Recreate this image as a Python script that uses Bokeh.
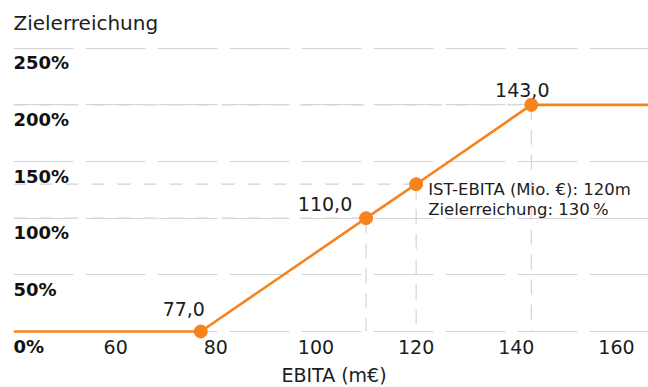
from bokeh.plotting import figure
from bokeh.models import Range1d, FixedTicker, Grid, LabelSet, ColumnDataSource
from bokeh.core.properties import value
from bokeh.embed import file_html
from bokeh.resources import INLINE

# Payout curve: EBITA (m€) vs. target achievement (%)
ebita = [77.0, 110.0, 120.0, 143.0]
achievement = [0, 100, 130, 200]
point_labels = ["77,0", "110,0", "", "143,0"]

x_ticks = [60, 80, 100, 120, 140, 160]
x_tick_labels = ["60", "80", "100", "120", "140", "160"]
y_ticks = [0, 50, 100, 150, 200, 250]
y_tick_labels = ["0%", "50%", "100%", "150%", "200%", "250%"]

actual_ebita = 120
actual_achievement = 130

# plotting area spans the whole canvas; texts live inside it
X_START, X_END = 39.6, 166.4
Y_START, Y_END = -49.4, 292.1

ORANGE = "#F5841F"
GRID = "#d4d4d4"
TEXT = "#1c1c1c"
FONT = value("DejaVu Sans")

p = figure(width=648, height=387, output_backend="svg", toolbar_location=None,
           x_range=Range1d(X_START, X_END), y_range=Range1d(Y_START, Y_END),
           x_axis_location=None, y_axis_location=None, min_border=0)
p.min_border_left = 13
p.outline_line_color = None
p.background_fill_color = "white"
p.border_fill_color = "white"
for g in p.grid:
    g.visible = False

# horizontal grid with long dashes
p.add_layout(Grid(dimension=1, ticker=FixedTicker(ticks=y_ticks),
                  grid_line_color=GRID, grid_line_width=1.2, grid_line_dash="60 12"))

# reference lines from the key points to the axes
ref_x = [ebita[1], actual_ebita, ebita[3]]
ref_y = [achievement[1], actual_achievement, achievement[3]]
p.segment(x0=ref_x, y0=ref_y, x1=ref_x, y1=[0] * 3,
          line_color=GRID, line_width=1.2, line_dash="15 10")
p.segment(x0=[X_START] * 3, y0=ref_y, x1=ref_x, y1=ref_y,
          line_color=GRID, line_width=1.2, line_dash="13 13")

# y tick labels, under their grid lines
ysrc = ColumnDataSource(dict(x=[X_START] * len(y_ticks), y=y_ticks, t=y_tick_labels))
p.add_layout(LabelSet(x="x", y="y", text="t", source=ysrc, y_offset=-21,
                      text_font=FONT, text_font_size="18px", text_font_style="bold",
                      text_color="#111111", text_baseline="alphabetic", text_align="left"))

# x tick labels under the zero line
xsrc = ColumnDataSource(dict(x=x_ticks, y=[0] * len(x_ticks), t=x_tick_labels))
p.add_layout(LabelSet(x="x", y="y", text="t", source=xsrc, y_offset=-22,
                      text_font=FONT, text_font_size="19px",
                      text_color=TEXT, text_baseline="alphabetic", text_align="center"))

# the curve: flat at 0 below threshold, flat at cap above maximum
curve_x = [X_START] + ebita + [X_END]
curve_y = [achievement[0]] + achievement + [achievement[-1]]
p.line(curve_x, curve_y, line_color=ORANGE, line_width=2.6)
p.scatter(ebita, achievement, size=13, fill_color=ORANGE, line_color=ORANGE)

# value labels next to the points
psrc = ColumnDataSource(dict(x=ebita, y=achievement, t=point_labels,
                             dx=[-17, -41, 0, -9], dy=[16, 7, 0, 8]))
p.add_layout(LabelSet(x="x", y="y", text="t", source=psrc, x_offset="dx", y_offset="dy",
                      text_font=FONT, text_font_size="19px", text_color=TEXT,
                      text_baseline="alphabetic", text_align="center"))

# annotation for the actual value
ann_lines = [f"IST-EBITA (Mio. €): {actual_ebita}m",
             f"Zielerreichung: {actual_achievement}\u2009%"]
asrc = ColumnDataSource(dict(x=[actual_ebita] * 2, y=[actual_achievement] * 2,
                             t=ann_lines, dy=[-11, -30.5]))
p.add_layout(LabelSet(x="x", y="y", text="t", source=asrc, x_offset=12, y_offset="dy",
                      text_font=FONT, text_font_size="16.5px", text_color=TEXT,
                      text_baseline="alphabetic", text_align="left"))

# axis titles
tsrc = ColumnDataSource(dict(x=[X_START, (X_START + X_END) / 2], y=[266.5, -44.2],
                             t=["Zielerreichung", "EBITA (m€)"], dx=[0, 3],
                             align=["left", "center"], size=["20px", "19px"]))
p.add_layout(LabelSet(x="x", y="y", text="t", source=tsrc, x_offset="dx",
                      text_align="align", text_font=FONT, text_font_size="size",
                      text_color=TEXT, text_baseline="alphabetic"))

open("out.html", "w").write(file_html(p, INLINE))
